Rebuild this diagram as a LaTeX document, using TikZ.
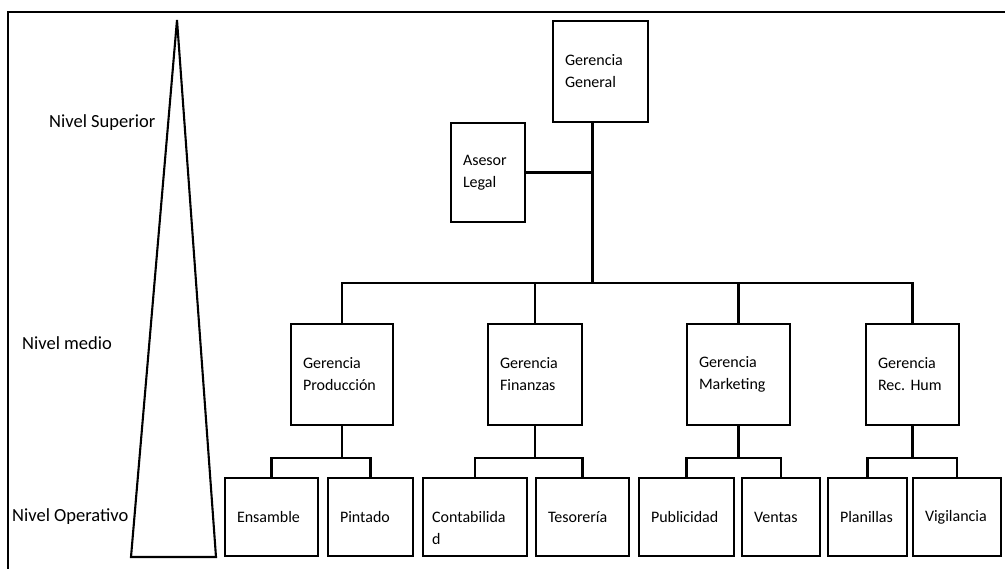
\documentclass[tikz,border=0pt]{standalone}
\usepackage{fontspec}
\setmainfont{Carlito}
\usetikzlibrary{calc}
\frenchspacing
\begin{document}
\begin{tikzpicture}[x=1pt,y=-1pt,
  ln/.style={line width=2.1pt},
  orgbox/.style={draw, ln, rectangle, inner xsep=12pt, inner ysep=0pt, align=left,
    font=\fontsize{16}{22}\selectfont},
  lvl/.style={anchor=west, inner sep=0pt, font=\fontsize{18.5}{22}\selectfont}]
\useasboundingbox (0,0) rectangle (1005,569);
% frame
\draw[ln] (1005,12) -- (8,12) -- (8,569);
% pyramid
\draw[ln, line join=miter] (177,20) -- (216,557) -- (131,557) -- cycle;
% level labels
\node[lvl] (lsup) at (49,123) {Nivel Superior};
\node[lvl] (lmed) at (22,343) {Nivel medio};
\node[lvl] (lope) at (12,517) {Nivel Operativo};
% top
\node[orgbox, text width=71pt, minimum height=101pt] (gg) at (600.5,71.5) {Gerencia\\General};
\node[orgbox, text width=50pt, minimum height=99pt] (al) at (488,172.5) {Asesor\\Legal};
% middle
\node[orgbox, text width=78pt, minimum height=101pt] (prod) at (342,374.5) {Gerencia\\Producción};
\node[orgbox, text width=70pt, minimum height=101pt] (fin) at (535,374.5) {Gerencia\\Finanzas};
\node[orgbox, text width=79pt, minimum height=101pt] (mkt) at (738.5,374.5) {Gerencia\\Marketing};
\node[orgbox, text width=69pt, minimum height=101pt] (rh) at (912.5,374.5) {Gerencia\\Rec. Hum};
% bottom
\node[orgbox, text width=69pt, minimum height=78pt] (ens) at (271.5,517) {Ensamble};
\node[orgbox, text width=61pt, minimum height=78pt] (pin) at (370.5,517) {Pintado};
\node[orgbox, text width=84pt, inner xsep=10pt, minimum height=78pt] (cont) at (475,517) {};
\node[anchor=west, inner sep=0pt, align=left, font=\fontsize{16}{22}\selectfont] (conttxt) at ($(cont.west)+(10,11)$) {Contabilida\\d};
\node[orgbox, text width=69pt, minimum height=78pt] (tes) at (582.5,517) {Tesorería};
\node[orgbox, text width=71pt, minimum height=78pt] (pub) at (686.5,517) {Publicidad};
\node[orgbox, text width=54pt, minimum height=78pt] (ven) at (781,517) {Ventas};
\node[orgbox, text width=55pt, minimum height=78pt] (pla) at (867.5,517) {Planillas};
\node[orgbox, text width=64pt, minimum height=78pt] (vig) at (957,517) {Vigilancia};
% connectors
\coordinate (busy) at (0,283);
\coordinate (ggs) at ($(gg.south)+(-8,0)$);
\draw[ln] (ggs) -- (ggs |- busy);
\draw[ln] (al.east) -- (al.east -| ggs);
\draw[ln] (prod.north) -- (prod.north |- busy) -- (rh.north |- busy) -- (rh.north);
\draw[ln] (fin.north) -- (fin.north |- busy);
\draw[ln] (mkt.north) -- (mkt.north |- busy);
% sub-buses
\coordinate (suby) at (0,458);
\draw[ln] (prod.south) -- (prod.south |- suby);
\draw[ln] (ens.north) -- (ens.north |- suby) -- (pin.north |- suby) -- (pin.north);
\draw[ln] (fin.south) -- (fin.south |- suby);
\draw[ln] (cont.north) -- (cont.north |- suby) -- (tes.north |- suby) -- (tes.north);
\draw[ln] (mkt.south) -- (mkt.south |- suby);
\draw[ln] (pub.north) -- (pub.north |- suby) -- (ven.north |- suby) -- (ven.north);
\draw[ln] (rh.south) -- (rh.south |- suby);
\draw[ln] (pla.north) -- (pla.north |- suby) -- (vig.north |- suby) -- (vig.north);
\end{tikzpicture}
\end{document}
